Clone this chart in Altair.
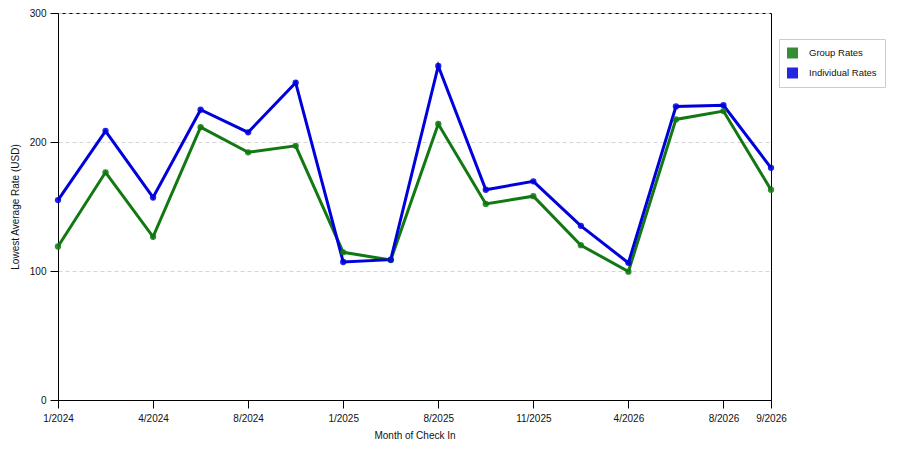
import altair as alt
import pandas as pd

# months on the x axis (only some of them carry a label)
months = ["1/2024", "2/2024", "4/2024", "6/2024", "8/2024", "10/2024", "1/2025", "4/2025",
          "8/2025", "9/2025", "11/2025", "2/2026", "4/2026", "6/2026", "8/2026", "9/2026"]
shown_months = ["1/2024", "4/2024", "8/2024", "1/2025", "8/2025", "11/2025", "4/2026", "8/2026", "9/2026"]

group_rates = [119, 176.5, 126.5, 211.5, 192, 197, 114.5, 108.5,
               214, 152, 158, 120, 99.5, 217.5, 224, 163]
individual_rates = [155, 208.5, 157, 225, 207.5, 246, 107, 108.8,
                    259, 163, 169.5, 135, 106.3, 227.5, 228.5, 180]

series = ["Group Rates", "Individual Rates"]
colors = ["#127812", "#0000dd"]

rows = []
for name, vals in zip(series, [group_rates, individual_rates]):
    for m, v in zip(months, vals):
        rows.append({"month": m, "rate": v, "series": name})
df = pd.DataFrame(rows)

font = "Liberation Sans"

chart = (alt.Chart(df)
         .mark_line(strokeWidth=3, point=alt.OverlayMarkDef(filled=True, size=40, opacity=0.85))
         .encode(
             x=alt.X("month:O", sort=months, scale=alt.Scale(padding=0),
                     axis=alt.Axis(values=shown_months, labelAngle=0, title="Month of Check In",
                                   grid=False, tickSize=8, labelPadding=5, titlePadding=7)),
             y=alt.Y("rate:Q", scale=alt.Scale(domain=[0, 300], nice=False),
                     axis=alt.Axis(values=[0, 100, 200, 300], title="Lowest Average Rate (USD)",
                                   grid=True, gridColor="#d4d4d4", gridDash=[4, 3],
                                   tickSize=8, labelPadding=4, titlePadding=9)),
             color=alt.Color("series:N", scale=alt.Scale(domain=series, range=colors),
                             legend=alt.Legend(title=None, orient="none", legendX=721, legendY=26,
                                               symbolType="square", symbolSize=25,
                                               symbolStrokeWidth=6, labelFontSize=9.5, labelFont=font,
                                               labelColor="#111", labelOffset=11, rowPadding=8,
                                               clipHeight=12, padding=8,
                                               strokeColor="#cccccc", fillColor="white")),
         )
         .properties(width=713, height=387,
                     autosize=alt.AutoSizeParams(type="none"),
                     padding={"left": 50, "top": 5, "right": 117, "bottom": 41})
         .configure_view(stroke="black", strokeWidth=1)
         .configure_axis(domainColor="black", tickColor="black", labelFont=font, titleFont=font,
                         labelFontSize=10, titleFontSize=10, titleFontWeight="normal",
                         labelColor="#111", titleColor="#111"))

chart.save("out.html", embed_options={"renderer": "svg", "actions": False})
